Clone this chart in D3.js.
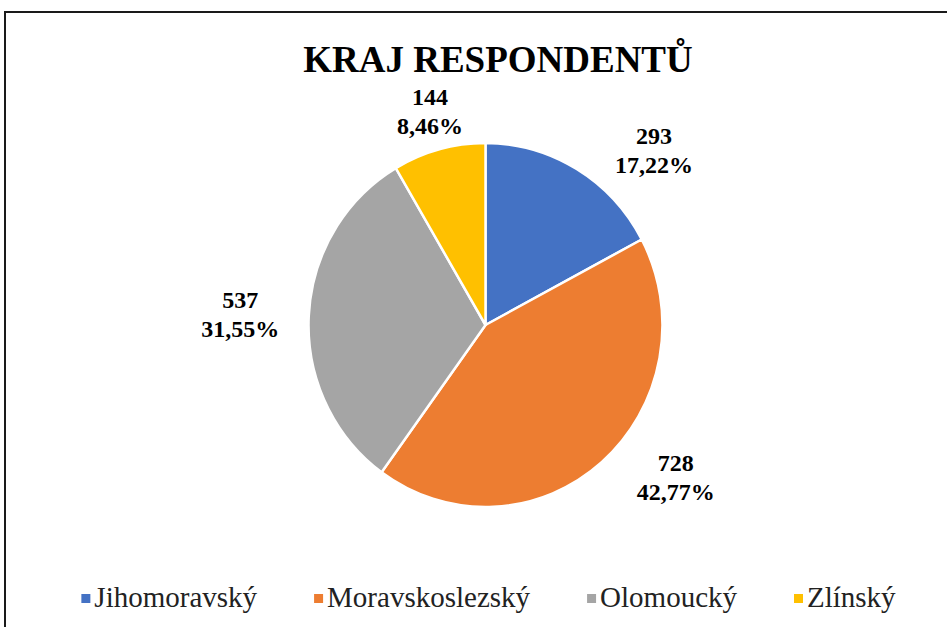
<!DOCTYPE html>
<html>
<head>
<meta charset="utf-8">
<script src="https://cdn.jsdelivr.net/npm/d3@7"></script>
</head>
<body style="margin:0">
<script>
const categories = ["Jihomoravský", "Moravskoslezský", "Olomoucký", "Zlínský"];
const counts = [293, 728, 537, 144];
const percents = ["17,22%", "42,77%", "31,55%", "8,46%"];
const colors = ["#4472C4", "#ED7D31", "#A5A5A5", "#FFC000"];
// manual nudges for the data labels, like the hand-placed ones in the original
const labelNudge = [[50, 17], [39, -28], [-15, -6], [5, 2]];

const width = 947, height = 627;
const cx = 485.5, cy = 325, r = 180;

const svg = d3.select("body")
    .append("svg")
    .attr("width", width)
    .attr("height", height)
    .style("display", "block")
    .style("font-family", '"Liberation Serif"');

svg.append("rect")
    .attr("width", width)
    .attr("height", height)
    .attr("fill", "#fff");

// frame (only top and left edges are visible in the crop)
svg.append("path")
    .attr("d", `M5,${height} L5,12 L${width},12`)
    .attr("fill", "none")
    .attr("stroke", "#1a1a1a")
    .attr("stroke-width", 2);

svg.append("text")
    .attr("x", 498)
    .attr("y", 72)
    .attr("text-anchor", "middle")
    .style("font-family", '"Liberation Serif"')
    .style("font-weight", "bold")
    .style("font-size", "37px")
    .text("KRAJ RESPONDENTŮ");

const data = categories.map((c, i) => ({ name: c, value: counts[i], pct: percents[i], color: colors[i] }));

const pie = d3.pie().sort(null).value(d => d.value);
const arcs = pie(data);
const arc = d3.arc().innerRadius(0).outerRadius(r);
const labelArc = d3.arc().innerRadius(r * 1.28).outerRadius(r * 1.28);

const g = svg.append("g")
    .attr("transform", `translate(${cx},${cy}) scale(0.983,1.011)`);

g.selectAll("path.slice")
    .data(arcs)
    .enter()
    .append("path")
    .attr("class", "slice")
    .attr("d", arc)
    .attr("fill", d => d.data.color)
    .attr("stroke", "#fff")
    .attr("stroke-width", 2.5)
    .attr("stroke-linejoin", "round");

const labels = svg.selectAll("text.lbl")
    .data(arcs)
    .enter()
    .append("text")
    .attr("class", "lbl")
    .attr("text-anchor", "middle")
    .style("font-family", '"Liberation Serif"')
    .style("font-weight", "bold")
    .style("font-size", "24px")
    .attr("transform", (d, i) => {
        const [x, y] = labelArc.centroid(d);
        return `translate(${cx + x + labelNudge[i][0]},${cy + y + labelNudge[i][1]})`;
    });

labels.append("tspan").attr("x", 0).attr("y", 0).text(d => d.data.value);
labels.append("tspan").attr("x", 0).attr("y", 29).text(d => d.data.pct);

// legend
const legend = svg.append("g");
const items = legend.selectAll("g.item")
    .data(data)
    .enter()
    .append("g")
    .attr("class", "item");

items.append("rect")
    .attr("width", 9)
    .attr("height", 9)
    .attr("y", -13)
    .attr("fill", d => d.color);

items.append("text")
    .attr("x", 13)
    .style("font-family", '"Liberation Serif"')
    .style("font-size", "29px")
    .style("fill", "#222")
    .text(d => d.name);

const gap = 57;
let xPos = 0;
items.each(function () {
    const w = 13 + d3.select(this).select("text").node().getComputedTextLength();
    d3.select(this).attr("transform", `translate(${xPos},0)`);
    xPos += w + gap;
});
const total = xPos - gap;
legend.attr("transform", `translate(${488.5 - total / 2},607)`);
</script>
</body>
</html>
